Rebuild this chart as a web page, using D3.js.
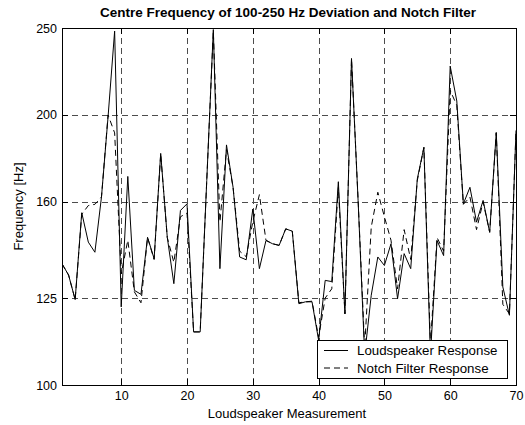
<!DOCTYPE html>
<html>
<head>
<meta charset="utf-8">
<script src="https://cdn.jsdelivr.net/npm/d3@7/dist/d3.min.js"></script>
<style>
  html, body { margin: 0; padding: 0; background: #fff; }
  svg { display: block; font-family: "Liberation Sans", Arial, sans-serif; }
</style>
</head>
<body>
<svg id="chart" width="525" height="425"></svg>
<script>
// Centre frequency (Hz) per loudspeaker measurement 1..70
const measurements = d3.range(1, 71);
const loudspeakerResponse = [
  136.5, 132.6, 124.5, 155.6, 144.3, 140.6, 162, 199, 248, 122.2,
  170.8, 127.5, 126.2, 146.1, 138.3, 181.2, 146.1, 129.7, 156.5, 159.2,
  114.6, 114.6, 169, 249, 134.8, 185.2, 166.1, 138.9, 137.9, 157.1,
  134.8, 144.9, 143.7, 143.1, 149.3, 148.4, 123.2, 123.8, 123.8, 112.2,
  130.8, 130.4, 168.5, 120.1, 231.2, 160.7, 108, 125.9, 138.9, 135.9,
  143.7, 124.8, 140.1, 134.8, 169.7, 184, 108, 144.9, 139.4, 226.7,
  207.3, 159.2, 166.1, 151.9, 160.6, 148, 191.2, 128.6, 119.6, 192.2
];
const notchFilterResponse = [
  136.5, 132.6, 124.5, 155, 158.5, 159, 162, 200, 191, 133,
  145, 127, 123.5, 146, 138, 181, 146, 137, 154, 155.5,
  114.6, 114.6, 169, 248, 152, 183, 166, 141, 139, 152,
  163, 145, 143.7, 143.1, 149.3, 148.4, 123.5, 123.8, 124, 113,
  125, 128, 166, 120, 231, 161, 110, 150, 164, 154,
  145, 128, 149, 138, 169, 184, 111, 146, 141, 213,
  205, 159, 162, 149, 160, 148, 191, 123, 120, 192
];
const xTicks = [10, 20, 30, 40, 50, 60, 70];
const yTicks = [100, 125, 160, 200, 250];
const titleText = "Centre Frequency of 100-250 Hz Deviation and Notch Filter";
const xLabel = "Loudspeaker Measurement";
const yLabel = "Frequency [Hz]";
const seriesNames = ["Loudspeaker Response", "Notch Filter Response"];

const svg = d3.select("#chart");
const plotLeft = 62, plotRight = 516, plotTop = 28, plotBottom = 385;

const x = d3.scaleLinear().domain([1, 70]).range([plotLeft, plotRight]);
const y = d3.scaleLog().domain([100, 250]).range([plotBottom, plotTop]);

svg.append("rect").attr("x", 0).attr("y", 0).attr("width", 525).attr("height", 425).attr("fill", "#fff");

svg.append("defs").append("clipPath").attr("id", "plotClip")
  .append("rect").attr("x", plotLeft).attr("y", plotTop)
  .attr("width", plotRight - plotLeft).attr("height", plotBottom - plotTop);

// grid
const grid = svg.append("g").attr("stroke", "#4d4d4d").attr("stroke-width", 1)
  .attr("stroke-dasharray", "6,4").attr("shape-rendering", "crispEdges");
grid.selectAll("line.gx").data(xTicks).join("line")
  .attr("x1", d => Math.round(x(d)) + 0.5).attr("x2", d => Math.round(x(d)) + 0.5)
  .attr("y1", plotTop).attr("y2", plotBottom);
grid.selectAll("line.gy").data(yTicks).join("line")
  .attr("y1", d => Math.round(y(d)) + 0.5).attr("y2", d => Math.round(y(d)) + 0.5)
  .attr("x1", plotLeft).attr("x2", plotRight);

// series lines
const line = (vals) => d3.line().x((d, i) => x(measurements[i])).y(d => y(d))(vals);
const plot = svg.append("g").attr("clip-path", "url(#plotClip)");
plot.append("path").attr("d", line(notchFilterResponse))
  .attr("fill", "none").attr("stroke", "#000").attr("stroke-width", 1)
  .attr("stroke-dasharray", "6,4");
plot.append("path").attr("d", line(loudspeakerResponse))
  .attr("fill", "none").attr("stroke", "#000").attr("stroke-width", 1);

// axes with inward ticks
const xAxisB = d3.axisBottom(x).tickValues(xTicks).tickSizeInner(-6).tickSizeOuter(0).tickPadding(6);
const xAxisT = d3.axisTop(x).tickValues(xTicks).tickSizeInner(-6).tickSizeOuter(0).tickFormat("");
const yAxisL = d3.axisLeft(y).tickValues(yTicks).tickSizeInner(-6).tickSizeOuter(0).tickPadding(5).tickFormat(d3.format("d"));
const yAxisR = d3.axisRight(y).tickValues(yTicks).tickSizeInner(-6).tickSizeOuter(0).tickFormat("");

function styleAxis(g) {
  g.select(".domain").remove();
  g.selectAll("line").attr("stroke", "#000").attr("shape-rendering", "crispEdges");
  g.selectAll("text").attr("fill", "#000").style("font-size", "12.5px")
    .style("font-family", "'Liberation Sans', Arial, sans-serif");
}
svg.append("g").attr("transform", `translate(0,${plotBottom})`).call(xAxisB).call(styleAxis);
svg.append("g").attr("transform", `translate(0,${plotTop})`).call(xAxisT).call(styleAxis);
svg.append("g").attr("transform", `translate(${plotLeft},0)`).call(yAxisL).call(styleAxis);
svg.append("g").attr("transform", `translate(${plotRight},0)`).call(yAxisR).call(styleAxis);

// box
svg.append("rect").attr("x", plotLeft + 0.5).attr("y", plotTop + 0.5)
  .attr("width", plotRight - plotLeft).attr("height", plotBottom - plotTop)
  .attr("fill", "none").attr("stroke", "#000").attr("stroke-width", 1)
  .attr("shape-rendering", "crispEdges");

// title and labels
svg.append("text").attr("x", 288).attr("y", 17)
  .attr("text-anchor", "middle").style("font-size", "13.5px").style("font-weight", "bold")
  .text(titleText);
svg.append("text").attr("x", 287).attr("y", 418)
  .attr("text-anchor", "middle").style("font-size", "13px").text(xLabel);
svg.append("text").attr("transform", `translate(23,${(plotTop + plotBottom) / 2}) rotate(-90)`)
  .attr("text-anchor", "middle").style("font-size", "13px").text(yLabel);

// legend
const lg = svg.append("g").attr("transform", "translate(317,340)");
lg.append("rect").attr("x", 0.5).attr("y", 0.5).attr("width", 190).attr("height", 38)
  .attr("fill", "#fff").attr("stroke", "#000").attr("shape-rendering", "crispEdges");
seriesNames.forEach((name, i) => {
  const cy = 10.5 + i * 17.5;
  lg.append("line").attr("x1", 7).attr("x2", 31).attr("y1", cy).attr("y2", cy)
    .attr("stroke", "#000").attr("stroke-dasharray", i === 0 ? null : "6,4");
  lg.append("text").attr("x", 40).attr("y", cy + 4.5).style("font-size", "13.3px").text(name);
});
</script>
</body>
</html>
